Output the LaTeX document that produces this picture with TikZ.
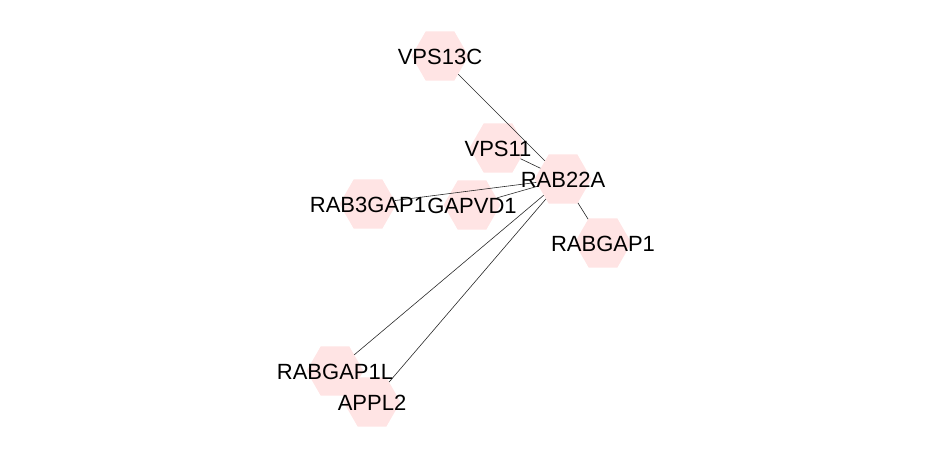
\documentclass[tikz,border=0pt]{standalone}
\usepackage{fontspec}
\setmainfont{Liberation Sans}
\definecolor{hexpink}{RGB}{255, 228, 228}
\definecolor{edgegray}{RGB}{40, 40, 40}
\usetikzlibrary{
  shapes.geometric,
}

\begin{document}
\begin{tikzpicture}[x=1pt, y=-1pt,
                    gene/.style={regular polygon, regular polygon sides=6,
                                 fill=hexpink, draw=none, minimum size=57pt,
                                 inner sep=0pt},
                    genelabel/.style={font=\fontsize{22}{24}\selectfont, inner sep=0pt,
                                      yshift=-1pt},
                    link/.style={draw=edgegray, line width=0.6pt}]
      \useasboundingbox (0,0) rectangle (936,458);
      \node [gene] (vps13c) at (440, 56) {};
      \node [gene] (vps11) at (498, 148) {};
      \node [gene] (rab22a) at (563, 179) {};
      \node [gene] (rab3gap1) at (368, 204) {};
      \node [gene] (gapvd1) at (472, 205) {};
      \node [gene] (rabgap1) at (603, 243) {};
      \node [gene] (rabgap1l) at (335, 371) {};
      \node [gene] (appl2) at (372, 402) {};
      \foreach \t in {vps13c, vps11, rab3gap1, gapvd1, rabgap1, rabgap1l, appl2}
        \draw [link] (rab22a) -- (\t);
      \node [genelabel] at (vps13c) {VPS13C};
      \node [genelabel] at (vps11) {VPS11};
      \node [genelabel] at (rab22a) {RAB22A};
      \node [genelabel] at (rab3gap1) {RAB3GAP1};
      \node [genelabel] at (gapvd1) {GAPVD1};
      \node [genelabel] at (rabgap1) {RABGAP1};
      \node [genelabel] at (rabgap1l) {RABGAP1L};
      \node [genelabel] at (appl2) {APPL2};
    \end{tikzpicture}
\end{document}
